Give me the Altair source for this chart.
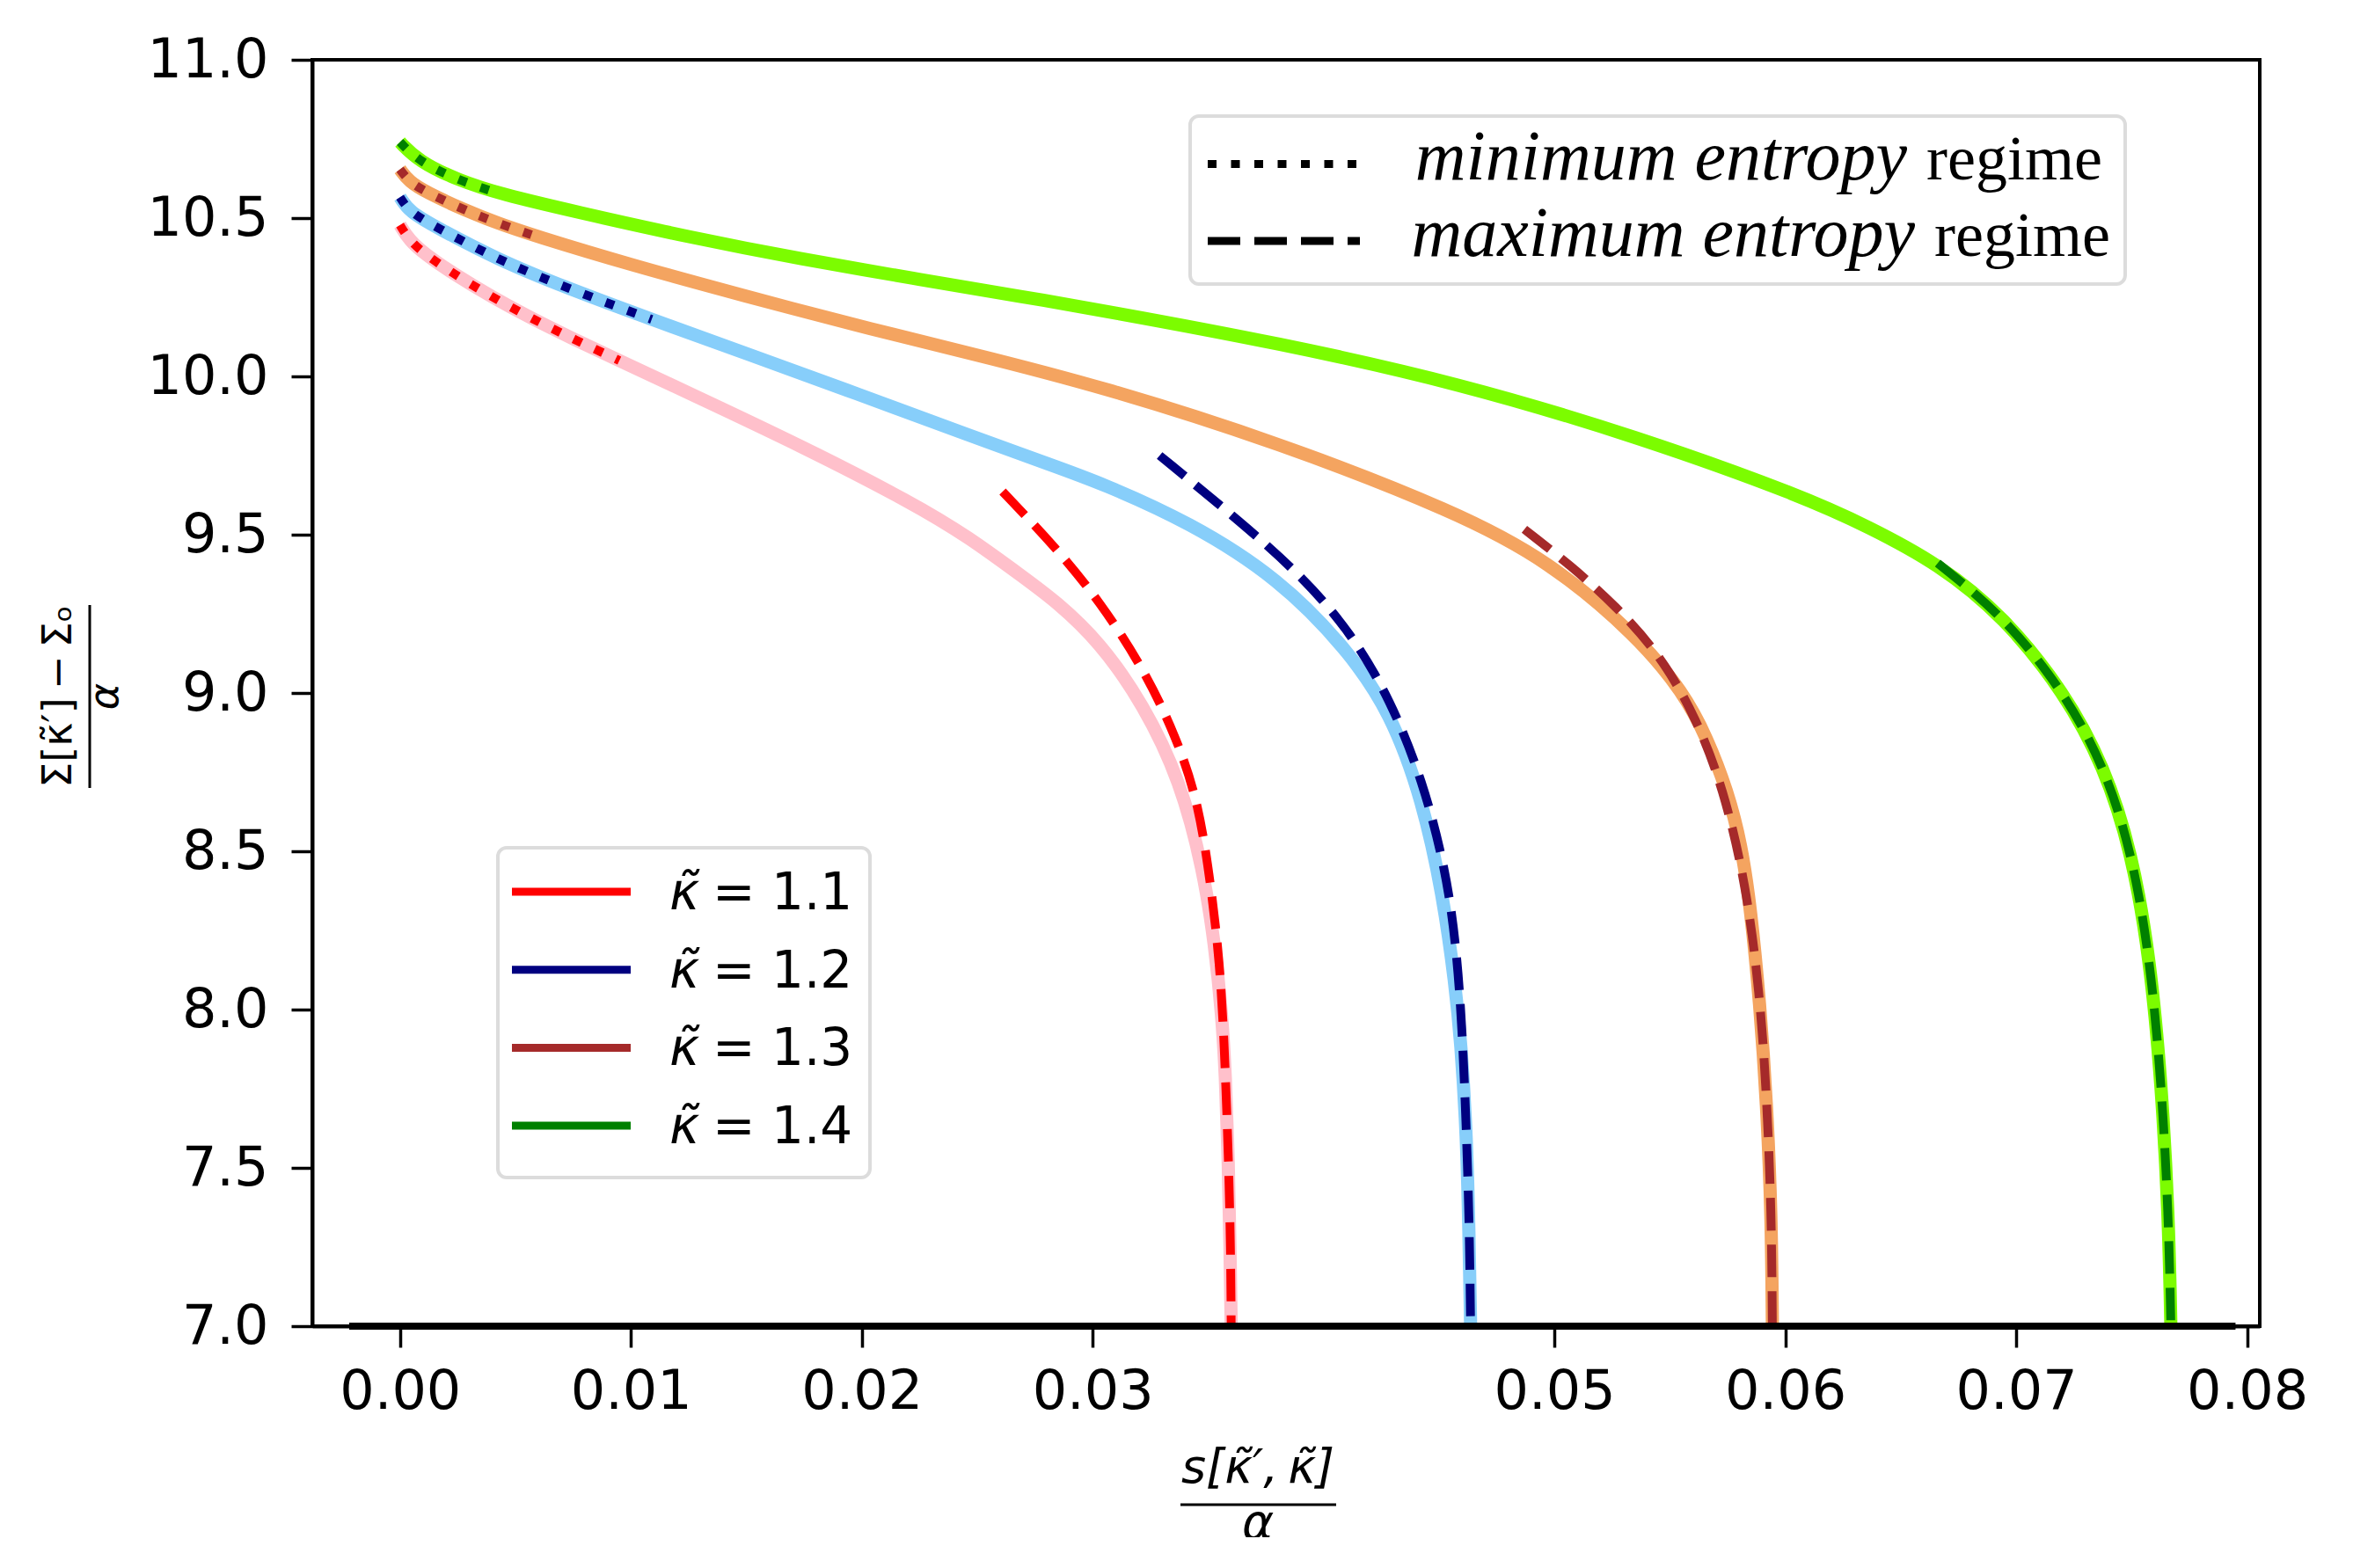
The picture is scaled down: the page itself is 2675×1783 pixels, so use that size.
import altair as alt
import pandas as pd

# ---------------- data ----------------
KAPPA_LABELS = ["1.1", "1.2", "1.3", "1.4"]
LIGHT_COLORS = ["#ffc0cb", "#87cefa", "#f4a460", "#7cfc00"]
DARK_COLORS = ["#ff0000", "#000080", "#a52a2a", "#008000"]
REGIMES = ["minimum", "maximum"]
REGIME_WORDS = ["minimum entropy", "maximum entropy"]
REGIME_SUFFIX = "regime"

X_TICKS = [0.00, 0.01, 0.02, 0.03, 0.05, 0.06, 0.07, 0.08]
Y_TICKS = [7.0, 7.5, 8.0, 8.5, 9.0, 9.5, 10.0, 10.5, 11.0]

# kappa = 1.1 (full curve)
K11_X = [0.0, 0.0004, 0.0011, 0.0023, 0.0040, 0.0057, 0.0076, 0.0095, 0.0125, 0.0174,
         0.0222, 0.0246, 0.0271, 0.0284, 0.0303, 0.0322, 0.0338, 0.0348, 0.0353, 0.0356,
         0.03575, 0.03588, 0.03595, 0.0360]
K11_Y = [10.478, 10.43, 10.385, 10.325, 10.25, 10.183, 10.115, 10.05, 9.948, 9.78,
         9.60, 9.494, 9.36, 9.29, 9.162, 8.964, 8.723, 8.44, 8.20, 7.98,
         7.80, 7.52, 7.25, 7.0]
K11_MAX_X = [0.0261, 0.0284, 0.0303, 0.0322, 0.0336, 0.0346, 0.03516, 0.0355, 0.0357,
             0.0359, 0.03598, 0.0360]
K11_MAX_Y = [9.636, 9.46, 9.29, 9.078, 8.865, 8.653, 8.37, 8.15, 7.9,
             7.5, 7.22, 7.0]

# kappa = 1.2
K12_X = [0.0, 0.0004, 0.0016, 0.0042, 0.0072, 0.0109, 0.0149, 0.0198, 0.0246, 0.0284,
         0.0303, 0.0342, 0.0381, 0.0410, 0.0429, 0.0443, 0.0452, 0.0457, 0.04595, 0.0462,
         0.0463, 0.04637]
K12_Y = [10.566, 10.52, 10.47, 10.37, 10.28, 10.18, 10.075, 9.945, 9.815, 9.715,
         9.665, 9.54, 9.36, 9.14, 8.94, 8.66, 8.35, 8.08, 7.9, 7.6,
         7.3, 7.0]
K12_MAX_X = [0.0329, 0.0361, 0.0390, 0.0412, 0.0429, 0.0443, 0.0453, 0.04575, 0.0460,
             0.0462, 0.04632, 0.04637]
K12_MAX_Y = [9.75, 9.559, 9.375, 9.19, 8.978, 8.723, 8.44, 8.2, 7.95,
             7.6, 7.3, 7.0]

# kappa = 1.3
K13_X = [0.0, 0.0004, 0.0011, 0.0028, 0.0042, 0.0057, 0.0101, 0.0149, 0.0198, 0.0246,
         0.0303, 0.0381, 0.0458, 0.0497, 0.0536, 0.0556, 0.0566, 0.0575, 0.0581, 0.0585,
         0.0589, 0.0592, 0.0594, 0.05944]
K13_Y = [10.654, 10.615, 10.583, 10.525, 10.485, 10.447, 10.35, 10.255, 10.16, 10.075,
         9.97, 9.79, 9.57, 9.42, 9.18, 9.00, 8.86, 8.69, 8.52, 8.32,
         8.02, 7.7, 7.35, 7.0]
K13_MAX_X = [0.0487, 0.0507, 0.05265, 0.05459, 0.05615, 0.05731, 0.05829, 0.0589, 0.0592,
             0.0594, 0.05944]
K13_MAX_Y = [9.517, 9.403, 9.276, 9.12, 8.92, 8.70, 8.40, 8.05, 7.72,
             7.36, 7.0]

# kappa = 1.4
K14_X = [0.0, 0.0008, 0.0025, 0.0044, 0.0076, 0.0125, 0.0174, 0.0222, 0.0271, 0.0303,
         0.0381, 0.0458, 0.0536, 0.0608, 0.0636, 0.0666, 0.0695, 0.0721, 0.0738, 0.0750,
         0.0758, 0.0763, 0.0766, 0.0767]
K14_Y = [10.74, 10.68, 10.62, 10.575, 10.52, 10.44, 10.37, 10.31, 10.25, 10.21,
         10.105, 9.98, 9.81, 9.62, 9.525, 9.41, 9.24, 9.00, 8.77, 8.50,
         8.16, 7.76, 7.35, 7.0]
K14_MAX_X = [0.0666, 0.0695, 0.0721, 0.0738, 0.0750, 0.0758, 0.0763, 0.0766, 0.0767]
K14_MAX_Y = [9.41, 9.24, 9.00, 8.77, 8.50, 8.16, 7.76, 7.35, 7.0]

# end of the minimum-entropy (dotted) part of each curve
MIN_END = [0.0095, 0.0109, 0.0057, 0.0044]

# thick black line drawn at the bottom of the panel
BASE_X = [-0.0022, 0.0795]
BASE_Y = 7.0

X_TITLE_NUM = "s[κ̃′,\u2009κ̃]"
X_TITLE_DEN = "α"
Y_TITLE_NUM = "Σ[κ̃′]\u2009−\u2009Σₒ"
Y_TITLE_DEN = "α"

# ---------------- table ----------------
FULL = [(K11_X, K11_Y), (K12_X, K12_Y), (K13_X, K13_Y), (K14_X, K14_Y)]
MAXC = [(K11_MAX_X, K11_MAX_Y), (K12_MAX_X, K12_MAX_Y), (K13_MAX_X, K13_MAX_Y),
        (K14_MAX_X, K14_MAX_Y)]

rows = []
for k, (xs_, ys_), (mx, my), end in zip(KAPPA_LABELS, FULL, MAXC, MIN_END):
    for a, b in zip(xs_, ys_):
        rows.append({"kappa": k, "role": "full", "x": a, "y": b})
        if a <= end:
            rows.append({"kappa": k, "role": "minimum", "x": a, "y": b})
    for a, b in zip(mx, my):
        rows.append({"kappa": k, "role": "maximum", "x": a, "y": b})
df = pd.DataFrame(rows)
base_df = pd.DataFrame({"x": [BASE_X[0]], "x2": [BASE_X[1]], "y": [BASE_Y]})
one = pd.DataFrame({"a": [0]})

# ---------------- encodings ----------------
W, H = 2214, 1440
xscale = alt.Scale(domain=[-0.0038, 0.08055], nice=False, zero=False)
yscale = alt.Scale(domain=[7.0, 11.0], nice=False, zero=False)
x_enc = alt.X("x:Q", scale=xscale,
              axis=alt.Axis(values=X_TICKS, format=".2f", title=None, labelPadding=20,
                            labelOverlap=False, labelFlush=False))
y_enc = alt.Y("y:Q", scale=yscale,
              axis=alt.Axis(values=Y_TICKS, format=".1f", title=None, labelPadding=26,
                            labelOverlap=False, labelFlush=False))

light = alt.Chart(df).transform_filter(alt.datum.role == "full").mark_line(
    strokeWidth=15, interpolate="basis"
).encode(
    x=x_enc, y=y_enc,
    color=alt.Color("kappa:N", scale=alt.Scale(domain=KAPPA_LABELS, range=LIGHT_COLORS),
                    legend=None),
)

dark = alt.Chart(df).transform_filter(alt.datum.role != "full").mark_line(
    strokeWidth=10, interpolate="basis"
).encode(
    x=x_enc, y=y_enc,
    color=alt.Color("kappa:N", scale=alt.Scale(domain=KAPPA_LABELS, range=DARK_COLORS),
                    legend=None),
    strokeDash=alt.StrokeDash("role:N",
                              scale=alt.Scale(domain=REGIMES, range=[[10, 16.5], [37, 16]]),
                              legend=None),
)

base = alt.Chart(base_df).mark_rule(color="black", strokeWidth=8).encode(
    x=alt.X("x:Q", scale=xscale), x2="x2:Q", y=alt.Y("y:Q", scale=yscale)
)

layers = [light, dark, base]

# ---------------- axis titles (fractions) ----------------
def txt(x, y, s, size, style="normal", angle=0, font="DejaVu Sans", align="center",
        baseline="alphabetic"):
    kw = dict(font=font, fontSize=size, fontStyle=style, align=align, baseline=baseline,
              color="black")
    if angle:
        kw["angle"] = angle
    return alt.Chart(one).mark_text(**kw).encode(
        x=alt.value(x), y=alt.value(y), text=alt.value(s))

def hline(x1, x2, y, color="black", width=3, dash=None):
    kw = dict(color=color, strokeWidth=width)
    if dash:
        kw["strokeDash"] = dash
    return alt.Chart(one).mark_rule(**kw).encode(
        x=alt.value(x1), x2=alt.value(x2), y=alt.value(y))

def vline(x, y1, y2, width=3):
    return alt.Chart(one).mark_rule(color="black", strokeWidth=width).encode(
        x=alt.value(x), y=alt.value(y1), y2=alt.value(y2))

layers += [
    txt(1075, 1618, X_TITLE_NUM, 54, "italic"),
    hline(987, 1164, 1643),
    txt(1075, 1682, X_TITLE_DEN, 55, "italic"),
    txt(-274, 724, Y_TITLE_NUM, 46, angle=270),
    vline(-253, 620, 828),
    txt(-221, 724, Y_TITLE_DEN, 46, "italic", angle=270),
]

# ---------------- legend 1 (colours) ----------------
layers.append(alt.Chart(one).mark_rect(fill="white", stroke="#dcdcdc", strokeWidth=4,
                                       cornerRadius=10).encode(
    x=alt.value(211), x2=alt.value(634), y=alt.value(896), y2=alt.value(1271)))
for i, (lab, col) in enumerate(zip(KAPPA_LABELS, DARK_COLORS)):
    yy = 946 + i * 88.7
    layers.append(hline(227, 362, yy, color=col, width=9))
    layers.append(txt(406, yy + 20, "κ̃", 58, "italic", align="left"))
    layers.append(txt(455, yy + 20, "= " + lab, 58, align="left"))

# ---------------- legend 2 (regimes) ----------------
layers.append(alt.Chart(one).mark_rect(fill="white", stroke="#dcdcdc", strokeWidth=4,
                                       cornerRadius=10).encode(
    x=alt.value(998), x2=alt.value(2061), y=alt.value(64), y2=alt.value(255)))
DASHES = [[10, 16.5], [37, 16]]
SUFFIX_X = [1835, 1844]
for i, (word, dash) in enumerate(zip(REGIME_WORDS, DASHES)):
    yy = 118.6 + i * 87.5
    layers.append(hline(1018, 1191, yy, color="black", width=9, dash=dash))
    layers.append(txt(SUFFIX_X[i] - 22, yy + 17, word, 80, "italic",
                      font="Liberation Serif", align="right"))
    layers.append(txt(SUFFIX_X[i], yy + 17, REGIME_SUFFIX, 72,
                      font="Liberation Serif", align="left"))

chart = alt.layer(*layers).resolve_scale(color="independent").properties(
    width=W, height=H,
    autosize=alt.AutoSizeParams(type="none"),
    padding={"left": 347, "top": 60, "right": 90, "bottom": 240},
    background="white",
).configure_view(
    stroke="black", strokeWidth=4
).configure_axis(
    domainColor="black", domainWidth=4, tickColor="black", tickWidth=3.5, tickSize=24,
    labelFont="DejaVu Sans", labelFontSize=62, labelColor="black", grid=False,
)

chart.save("out.html", embed_options={"renderer": "svg", "actions": False})
